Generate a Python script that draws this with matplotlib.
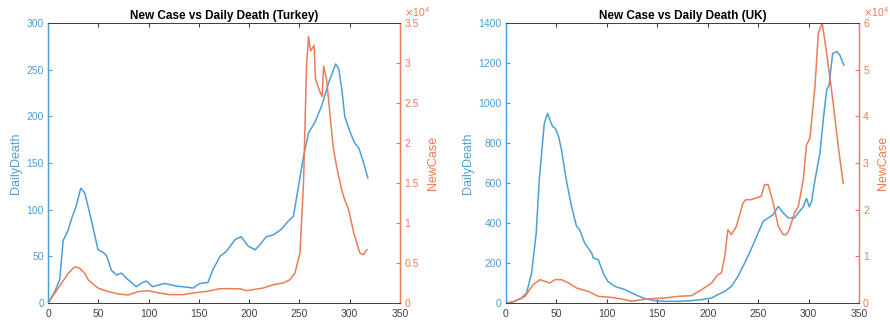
import matplotlib
matplotlib.use("Agg")
import matplotlib.pyplot as plt
from matplotlib.ticker import FuncFormatter, FixedLocator

plt.rcParams['font.family'] = ['Liberation Sans', 'DejaVu Sans']

BLUE = '#4c9fd6'
ORANGE = '#ec7c56'
GRAY = '#404040'

# ---- Turkey ----
tr_death_day = [0, 6.6, 11.6, 15, 20, 23, 28, 32.5, 36.5, 43, 49.7, 55, 58, 63, 68, 73, 79.5, 87.8,
                94, 97.7, 104, 115.8, 128, 138, 144, 151, 159, 164, 171, 177, 186, 192, 199, 206,
                211, 217, 224, 232, 239, 244, 249, 254, 259, 265, 272, 279, 286, 289, 292, 295,
                300, 305, 309, 313, 318]
tr_death = [0, 12, 25, 67, 78, 89, 104, 123, 118, 89, 57, 54, 51, 35, 30, 32, 25, 17.5,
            22, 23.5, 17.5, 21, 18, 17, 16, 21, 22, 36, 50, 55, 68, 71, 61, 57,
            63, 71, 73, 79, 88, 93, 125, 157, 182, 193, 211, 236, 256, 251, 230, 200,
            184, 171, 166, 153, 134]

tr_case_day = [0, 10, 20, 26.5, 31.5, 36.5, 40, 50, 60, 70, 79.5, 89.5, 99.4, 109, 121,
               134, 144, 158, 171, 184, 192, 197, 204, 214, 224, 234, 240.5, 245.5, 250.5, 254, 257,
               259, 261, 264.5, 266, 270, 272.5, 274, 277, 280.5, 283.5, 287, 292, 295, 299, 304,
               310, 313.5, 317]
tr_case = [0, 1840, 3700, 4540, 4340, 3700, 2880, 1840, 1420, 1125, 1000, 1420, 1540, 1290, 1042,
           1042, 1250, 1458, 1792, 1792, 1750, 1542, 1667, 1875, 2292, 2500, 2917, 3750, 6250,
           15000, 29600, 33300, 31500, 32200, 28000, 26500, 25800, 29600, 27900, 23300, 19500,
           17000, 14100, 12900, 11600, 8750, 6250, 6040, 6670]

# ---- UK ----
uk_death_day = [0, 5.6, 15.5, 20.5, 25.4, 30, 33, 38, 41.3, 44, 46.3, 48.9, 52.2, 55, 60, 65,
                70, 73, 78, 81.5, 85, 86.5, 91.5, 96.4, 101, 108, 118, 128, 137.7, 147.6, 157.5,
                170.7, 184, 194, 204, 210, 217, 223.5, 230, 236.7, 243, 250, 255, 260, 265, 270,
                275, 280, 286, 291, 294.8, 298, 300.8, 303, 306.4, 311.3, 314.6, 318, 320.5, 322,
                324, 328, 331, 335]
uk_death = [0, 3, 25, 50, 150, 350, 615, 898, 948, 910, 882, 873, 832, 767, 610, 483,
            383, 367, 300, 275, 250, 225, 217, 150, 108, 83, 67, 42, 22, 12, 8,
            8, 12, 17, 25, 42, 58, 83, 133, 200, 267, 350, 408, 425, 442, 483,
            450, 425, 425, 458, 481, 523, 481, 506, 615, 748, 915, 1065, 1090, 1165,
            1248, 1257, 1240, 1190]

uk_case_day = [0, 9, 19, 27, 33.7, 38.6, 43.6, 48.5, 55, 62, 70, 81.5, 91.5, 104.6, 118, 124.5,
               134, 144, 157.5, 170.7, 184, 194, 204, 210, 213.6, 217, 220, 223.5, 228.5, 235,
               238, 243, 248, 253, 256.5, 260, 265, 270, 275, 278, 281, 286, 289.8, 294.8, 298,
               301.4, 306.4, 309.7, 313.6, 318, 324.5, 329.5, 334.4]
uk_case = [0, 357, 1430, 3930, 5000, 4640, 4290, 5000, 5000, 4290, 3210, 2500, 1430, 1210, 714,
           357, 714, 929, 1070, 1430, 1570, 2860, 4290, 6070, 6430, 10000, 15700, 14640, 16430,
           21430, 22140, 22140, 22500, 22860, 25360, 25360, 21430, 16430, 14640, 14640, 15710,
           19290, 20600, 26400, 33900, 35300, 46360, 57800, 60000, 53500, 42800, 33500, 25650]

x_ticks = [0, 50, 100, 150, 200, 250, 300, 350]

panels = [
    dict(title='New Case vs Daily Death (Turkey)', dd=tr_death_day, d=tr_death, cd=tr_case_day,
         c=tr_case, ylim_l=300, lticks=[0, 50, 100, 150, 200, 250, 300], ylim_r=35000,
         rticks=[0, 5000, 10000, 15000, 20000, 25000, 30000, 35000],
         pos=[0.054, 0.059, 0.3955, 0.8696]),
    dict(title='New Case vs Daily Death (UK)', dd=uk_death_day, d=uk_death, cd=uk_case_day,
         c=uk_case, ylim_l=1400, lticks=[0, 200, 400, 600, 800, 1000, 1200, 1400], ylim_r=60000,
         rticks=[0, 10000, 20000, 30000, 40000, 50000, 60000],
         pos=[0.5685, 0.059, 0.3966, 0.8696]),
]

fig = plt.figure(figsize=(8.9, 3.22), dpi=100)
for p in panels:
    ax = fig.add_axes(p['pos'])
    ax2 = ax.twinx()
    ax.plot(p['dd'], p['d'], color=BLUE, lw=1.1)
    ax2.plot(p['cd'], p['c'], color=ORANGE, lw=1.1)
    ax.set_xlim(0, 350)
    ax.set_ylim(0, p['ylim_l'])
    ax2.set_ylim(0, p['ylim_r'])
    ax.set_xticks(x_ticks)
    ax.set_yticks(p['lticks'])
    ax2.yaxis.set_major_locator(FixedLocator(p['rticks']))
    ax2.yaxis.set_major_formatter(FuncFormatter(lambda v, pos: '%g' % (v / 1e4)))
    ax2.text(1.012, 1.015, r'$\times\mathregular{10^4}$', transform=ax2.transAxes,
             ha='left', va='bottom', color=ORANGE, fontsize=7.5)
    for a in (ax, ax2):
        for s in ('top', 'bottom'):
            a.spines[s].set_color(GRAY)
            a.spines[s].set_linewidth(0.7)
        a.spines['left'].set_color(BLUE)
        a.spines['right'].set_color(ORANGE)
        a.spines['left'].set_linewidth(0.9)
        a.spines['right'].set_linewidth(0.9)
    ax.tick_params(axis='x', direction='in', top=True, colors=GRAY, labelsize=7.5, length=3, pad=4.5)
    ax.tick_params(axis='y', direction='in', colors=BLUE, labelsize=7.5, length=3, pad=3)
    ax2.tick_params(axis='y', direction='in', colors=ORANGE, labelsize=7.5, length=3, pad=3)
    ax.set_ylabel('DailyDeath', color=BLUE, fontsize=9, labelpad=3)
    ax2.set_ylabel('NewCase', color=ORANGE, fontsize=9, labelpad=6)
    ax.set_title(p['title'], fontsize=8.5, fontweight='bold', pad=3)

fig.savefig('out.png', dpi=100)
